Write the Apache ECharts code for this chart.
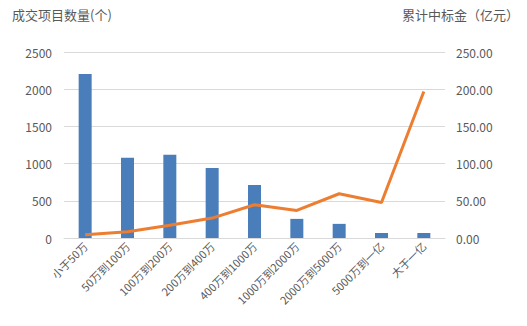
<!DOCTYPE html>
<html><head><meta charset="utf-8">
<script src="https://cdn.jsdelivr.net/npm/echarts@6/dist/echarts.min.js"></script>
<style>html,body{margin:0;padding:0;background:#fff}#c{width:527px;height:326px}</style>
</head><body><div id="c"></div>
<script>
var categories = ['小于50万','50万到100万','100万到200万','200万到400万','400万到1000万','1000万到2000万','2000万到5000万','5000万到一亿','大于一亿'];
var projectCounts = [2205, 1080, 1118, 942, 712, 257, 190, 67, 67];
var cumulativeAmount = [4.4, 8.5, 17, 26.8, 44.7, 37, 59.5, 47.8, 196.8];
var leftTicks = [0, 500, 1000, 1500, 2000, 2500];
var rightTicks = [0, 50, 100, 150, 200, 250];
var leftName = '成交项目数量(个)';
var rightName = '累计中标金（亿元）';

var chart = echarts.init(document.getElementById('c'), null, {renderer: 'svg'});
var font = '"Noto Sans CJK SC", "Noto Sans", sans-serif';
chart.setOption({
  animation: false,
  textStyle: {fontFamily: font},
  grid: {left: 64, right: 82, top: 52, bottom: 88},
  graphic: [
    {type: 'text', left: 12, top: 8, style: {text: leftName, fill: '#595959', font: '13px ' + font}},
    {type: 'text', right: 8, top: 8, style: {text: rightName, fill: '#595959', font: '13px ' + font}}
  ],
  xAxis: {
    type: 'category', data: categories,
    axisLine: {lineStyle: {color: '#d9d9d9'}},
    axisTick: {show: false},
    axisLabel: {rotate: 45, color: '#595959', fontSize: 11, interval: 0, margin: 6}
  },
  yAxis: [
    {type: 'value', min: leftTicks[0], max: leftTicks[leftTicks.length-1], interval: 500,
     axisLine: {show: false}, axisTick: {show: false},
     splitLine: {lineStyle: {color: '#d9d9d9'}},
     axisLabel: {color: '#595959', fontSize: 12, margin: 12, formatter: function(v){return String(v);}}},
    {type: 'value', min: rightTicks[0], max: rightTicks[rightTicks.length-1], interval: 50,
     axisLine: {show: false}, axisTick: {show: false},
     splitLine: {show: false},
     axisLabel: {color: '#595959', fontSize: 12, margin: 11, formatter: function(v){return v.toFixed(2);}}}
  ],
  series: [
    {type: 'bar', data: projectCounts, barWidth: 13, itemStyle: {color: '#4a7ebb'}},
    {type: 'line', yAxisIndex: 1, data: cumulativeAmount, symbol: 'none',
     lineStyle: {color: '#ed7d31', width: 3}}
  ]
});
</script></body></html>
